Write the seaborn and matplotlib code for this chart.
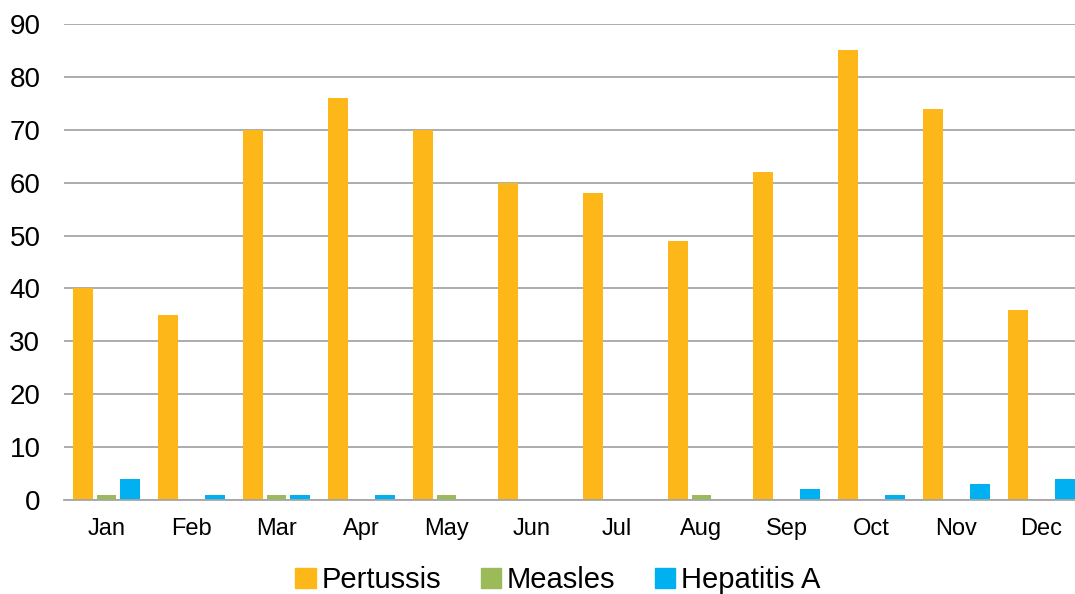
import pandas as pd
import matplotlib.pyplot as plt
import seaborn as sns

months = ['Jan', 'Feb', 'Mar', 'Apr', 'May', 'Jun', 'Jul', 'Aug', 'Sep', 'Oct', 'Nov', 'Dec']
pertussis = [40, 35, 70, 76, 70, 60, 58, 49, 62, 85, 74, 36]
measles = [1, 0, 1, 0, 1, 0, 0, 1, 0, 0, 0, 0]
hepatitis_a = [4, 1, 1, 1, 0, 0, 0, 0, 2, 1, 3, 4]

diseases = ['Pertussis', 'Measles', 'Hepatitis A']
colors = ['#FDB718', '#9BBB59', '#00B0F0']

df = pd.DataFrame({'Month': months, 'Pertussis': pertussis,
                   'Measles': measles, 'Hepatitis A': hepatitis_a})
df = df.melt(id_vars='Month', var_name='Disease', value_name='Cases')

sns.set_style('white')
plt.rcParams['font.family'] = ['Liberation Sans', 'DejaVu Sans']
plt.rcParams['text.color'] = 'black'
plt.rcParams['xtick.color'] = 'black'
plt.rcParams['ytick.color'] = 'black'

fig = plt.figure(figsize=(10.75, 5.94), dpi=100)
ax = fig.add_axes([64 / 1075, 94 / 594, 1020 / 1075, 476 / 594])

sns.barplot(data=df, x='Month', y='Cases', hue='Disease', hue_order=diseases,
            palette=colors, width=0.83, gap=0.15, saturation=1, ax=ax, legend=False,
            linewidth=0)

ax.set_ylim(0, 90)
ax.set_xlim(-0.5, 11.5)
ax.set_yticks(range(0, 91, 10))
ax.yaxis.grid(True, color='#A6A6A6', linewidth=1.3)
ax.set_axisbelow(True)
for s in ['top', 'right', 'left']:
    ax.spines[s].set_visible(False)
ax.spines['bottom'].set_color('#A6A6A6')
ax.spines['bottom'].set_linewidth(1.3)

ax.set_xticks([i - 0.5 for i in range(13)], minor=True)
ax.tick_params(axis='x', which='minor', length=7, width=1.3, color='#A6A6A6', direction='out')
ax.tick_params(axis='x', which='major', length=0, labelsize=17, labelcolor='black', pad=13)
ax.tick_params(axis='y', length=0, labelsize=20, labelcolor='black', pad=17)
ax.set_xlabel('')
ax.set_ylabel('')

handles = [plt.Rectangle((0, 0), 1, 1, color=c) for c in colors]
fig.legend(handles, diseases, loc='lower center', bbox_to_anchor=(0.519, -0.045), ncol=3,
           frameon=False, fontsize=21, handlelength=0.7, handleheight=0.7,
           handletextpad=0.2, columnspacing=1.35, labelcolor='black')

fig.savefig('out.png', dpi=100)
